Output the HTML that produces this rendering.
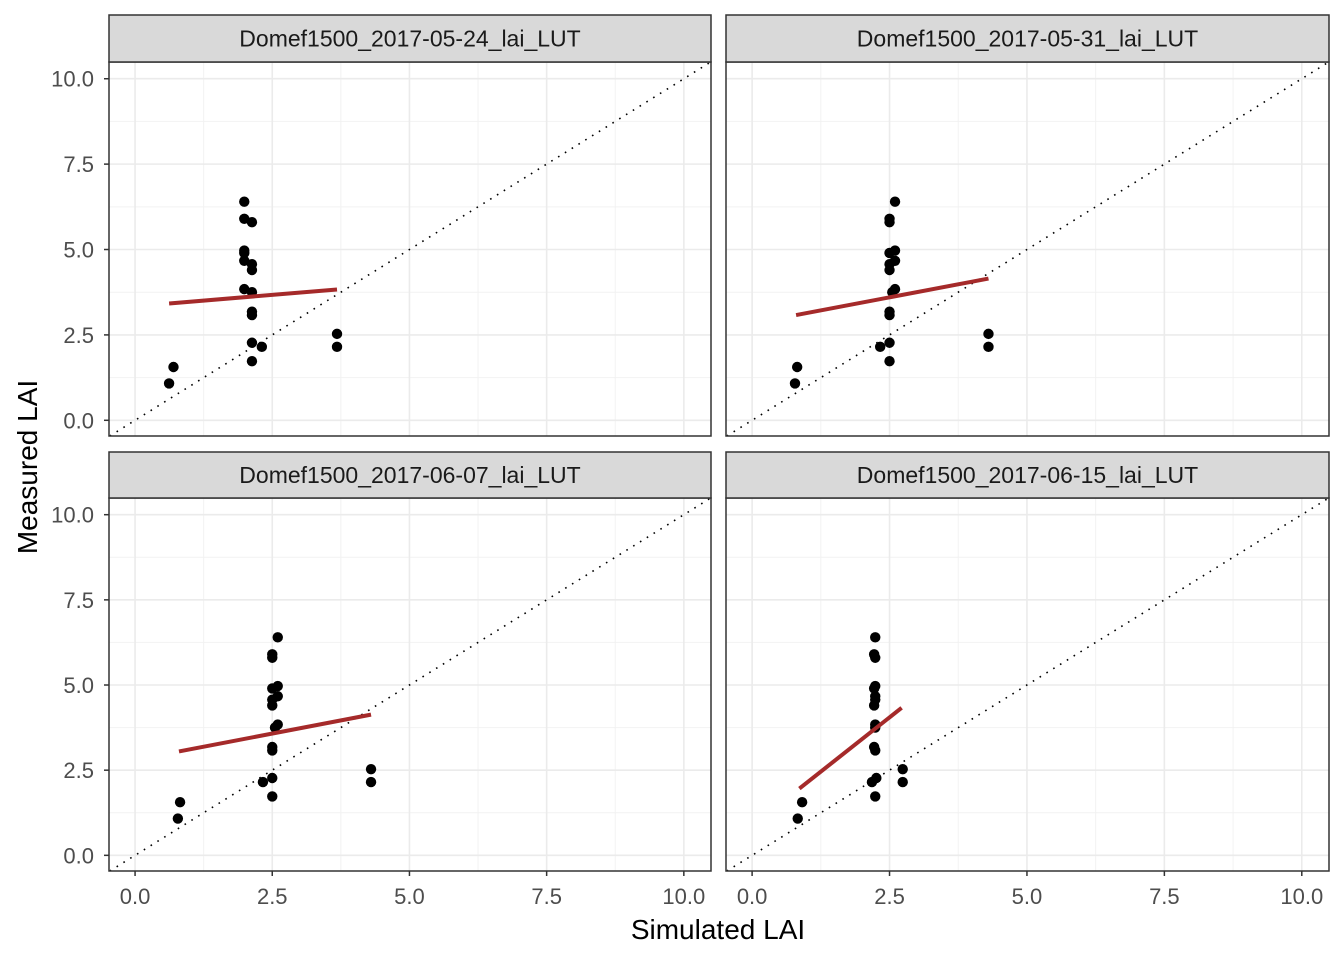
<!DOCTYPE html>
<html><head><meta charset="utf-8"><style>
html,body{margin:0;padding:0;background:#fff;}
svg{display:block;font-family:"Liberation Sans",sans-serif;}
</style></head><body>
<svg id="chart" width="1344" height="960"></svg>
<script>
const panelTitles=["Domef1500_2017-05-24_lai_LUT","Domef1500_2017-05-31_lai_LUT","Domef1500_2017-06-07_lai_LUT","Domef1500_2017-06-15_lai_LUT"];
const measured=[6.4,5.9,5.8,4.97,4.9,4.67,4.57,4.4,3.84,3.75,3.18,3.08,2.27,2.15,1.73,2.53,2.15,1.56,1.08];
const simP1=[1.99,1.99,2.13,1.99,1.99,1.99,2.13,2.13,1.99,2.13,2.13,2.13,2.13,2.31,2.13,3.68,3.68,0.70,0.62];
const simP2=[2.6,2.5,2.5,2.6,2.5,2.6,2.5,2.5,2.6,2.55,2.5,2.5,2.5,2.33,2.5,4.3,4.3,0.82,0.78];
const simP3=[2.6,2.5,2.5,2.6,2.5,2.6,2.5,2.5,2.6,2.55,2.5,2.5,2.5,2.33,2.5,4.3,4.3,0.82,0.78];
const simP4=[2.24,2.22,2.24,2.24,2.22,2.24,2.24,2.22,2.24,2.24,2.22,2.24,2.26,2.18,2.24,2.74,2.74,0.91,0.83];
const fitX0=[0.62,0.8,0.8,0.86];
const fitX1=[3.68,4.3,4.3,2.72];
const fitY0=[3.42,3.08,3.05,1.96];
const fitY1=[3.83,4.15,4.13,4.33];
const tickVals=[0,2.5,5,7.5,10];
const tickLabels=["0.0","2.5","5.0","7.5","10.0"];
const sims=[simP1,simP2,simP3,simP4];

const NS="http://www.w3.org/2000/svg";
const svg=document.getElementById('chart');
function mk(tag,attrs,parent){const e=document.createElementNS(NS,tag);for(const k in attrs)e.setAttribute(k,attrs[k]);(parent||svg).appendChild(e);return e;}
const panels=[{x0:109,x1:711,s0:15,y0:62,y1:436},{x0:726,x1:1329,s0:15,y0:62,y1:436},{x0:109,x1:711,s0:452,y0:498,y1:871},{x0:726,x1:1329,s0:452,y0:498,y1:871}];
const xmin=-0.475,xmax=10.495,ymin=-0.46,ymax=10.49;
panels.forEach((p,i)=>{
  const g=mk('g',{});
  
  
  const sx=v=>p.x0+(v-xmin)/(xmax-xmin)*(p.x1-p.x0);
  const sy=v=>p.y1-(v-ymin)/(ymax-ymin)*(p.y1-p.y0);
  for(let k=0;k<4;k++){const v=1.25+2.5*k;
    mk('line',{x1:sx(v),x2:sx(v),y1:p.y0,y2:p.y1,stroke:'#f2f2f2','stroke-width':1},g);
    mk('line',{y1:sy(v),y2:sy(v),x1:p.x0,x2:p.x1,stroke:'#f2f2f2','stroke-width':1},g);}
  tickVals.forEach(v=>{
    mk('line',{x1:sx(v),x2:sx(v),y1:p.y0,y2:p.y1,stroke:'#ebebeb','stroke-width':1.6},g);
    mk('line',{y1:sy(v),y2:sy(v),x1:p.x0,x2:p.x1,stroke:'#ebebeb','stroke-width':1.6},g);});
  const d=mk('line',{x1:sx(Math.max(xmin,ymin)),y1:sy(Math.max(xmin,ymin)),x2:sx(Math.min(xmax,ymax)),y2:sy(Math.min(xmax,ymax)),stroke:'#000','stroke-width':1.6,'stroke-dasharray':'1.6 6.4'},g);
  
  
  const sim=sims[i];
  measured.forEach((m,j)=>{
    const c=mk('circle',{cx:sx(sim[j]),cy:sy(m),r:5.2,fill:'#000'},g);
    
    
  });
  const f=mk('line',{x1:sx(fitX0[i]),y1:sy(fitY0[i]),x2:sx(fitX1[i]),y2:sy(fitY1[i]),stroke:'#a52a2a','stroke-width':4},g);
  
  
  mk('rect',{x:p.x0,y:p.y0,width:p.x1-p.x0,height:p.y1-p.y0,fill:'none',stroke:'#333','stroke-width':1.5},g);
  const st=mk('rect',{x:p.x0,y:p.s0,width:p.x1-p.x0,height:p.y0-p.s0,fill:'#d9d9d9',stroke:'#333','stroke-width':1.5},g);
  
  
  const t=mk('text',{x:(p.x0+p.x1)/2,y:(p.s0+p.y0)/2+8,'text-anchor':'middle','font-size':23,fill:'#1a1a1a'},g);
  t.textContent=panelTitles[i];
  
  
  if(i%2===0){tickVals.forEach((v,k)=>{
    mk('line',{x1:p.x0-5,x2:p.x0,y1:sy(v),y2:sy(v),stroke:'#333','stroke-width':1.5},g);
    const tl=mk('text',{x:p.x0-15,y:sy(v)+8,'text-anchor':'end','font-size':22,fill:'#4d4d4d'},g);
    tl.textContent=tickLabels[k];
    
    });}
  if(i>=2){tickVals.forEach((v,k)=>{
    mk('line',{x1:sx(v),x2:sx(v),y1:p.y1,y2:p.y1+5,stroke:'#333','stroke-width':1.5},g);
    const tl=mk('text',{x:sx(v),y:p.y1+33,'text-anchor':'middle','font-size':22,fill:'#4d4d4d'},g);
    tl.textContent=tickLabels[k];
    
    });}
});
const xt=mk('text',{x:718,y:939,'text-anchor':'middle','font-size':28,fill:'#000'});
xt.textContent='Simulated LAI';


const yt=mk('text',{x:0,y:0,'text-anchor':'middle','font-size':28,fill:'#000',transform:'translate(37,467) rotate(-90)'});
yt.textContent='Measured LAI';


</script>
</body></html>
